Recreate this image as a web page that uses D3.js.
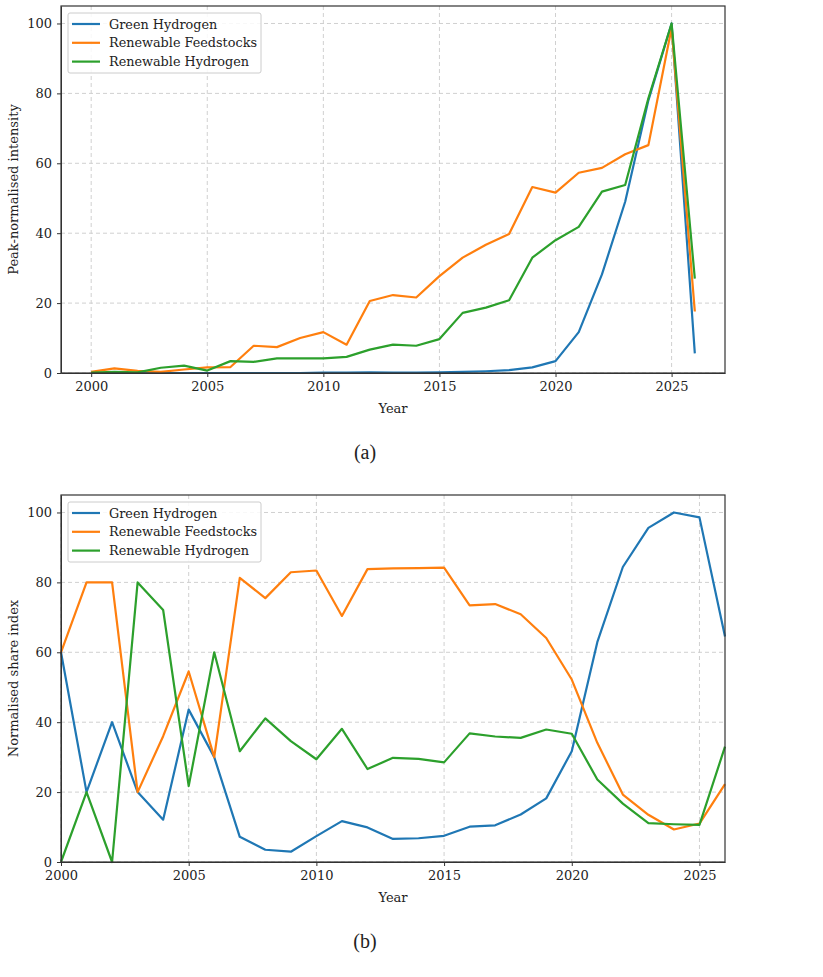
<!DOCTYPE html>
<html>
<head>
<meta charset="utf-8">
<script src="https://cdn.jsdelivr.net/npm/d3@7"></script>
<style>
    body { margin: 0; background: #fff; }
    text { font-family: "DejaVu Serif", serif; fill: #222; }
    .grid line { stroke: #d0d0d0; stroke-dasharray: 4,3; stroke-width: 1; }
    .axis path, .axis line { stroke: #333; }
    .axis text { font-size: 13px; }
    .caption { font-family: "Liberation Serif", serif; font-size: 20px; }
</style>
</head>
<body>
<div id="chart"></div>
<script>
var years = d3.range(2000, 2027);
var seriesNames = ["Green Hydrogen", "Renewable Feedstocks", "Renewable Hydrogen"];
var colors = ["#1f77b4", "#ff7f0e", "#2ca02c"];
var yTicks = [0, 20, 40, 60, 80, 100];
var xTicks = [2000, 2005, 2010, 2015, 2020, 2025];

// panel (a) peak-normalised intensity
var intensityGreen = [0, 0, 0, 0, 0, 0, 0, 0, 0, 0, 0.1, 0.1, 0.2, 0.1, 0.1, 0.2,
    0.3, 0.5, 0.8, 1.6, 3.4, 11.7, 28.2, 49, 78, 100, 5.6];
var intensityFeed = [0.3, 1.3, 0.6, 0.3, 1.0, 1.6, 1.7, 7.8, 7.4, 10.0, 11.7, 8.1, 20.6,
    22.3, 21.6, 27.7, 33, 36.7, 39.8, 53.2, 51.6, 57.3, 58.7, 62.6, 65.2, 98.7, 17.6];
var intensityRenew = [0.1, 0.3, 0.2, 1.5, 2.1, 0.7, 3.4, 3.2, 4.2, 4.2, 4.2, 4.6, 6.7,
    8.1, 7.8, 9.7, 17.2, 18.7, 20.8, 33, 38, 41.8, 51.9, 53.8, 78.6, 100, 27];

// panel (b) normalised share index
var shareGreen = [60, 20, 40, 20, 12.1, 43.6, 30, 7.2, 3.5, 2.95, 7.4, 11.7, 9.9, 6.6,
    6.8, 7.5, 10.1, 10.5, 13.6, 18.2, 31.7, 62.9, 84.4, 95.6, 100, 98.6, 64.5];
var shareFeed = [60, 80, 80, 20, 36, 54.5, 30, 81.3, 75.5, 82.9, 83.4, 70.4, 83.8, 84,
    84.1, 84.2, 73.4, 73.8, 70.9, 64.1, 52.2, 34.1, 19.3, 13.5, 9.3, 11, 22.3];
var shareRenew = [0, 20, 0, 80, 72.1, 21.7, 60, 31.7, 41.1, 34.6, 29.4, 38.1, 26.6, 29.8,
    29.5, 28.5, 36.8, 35.9, 35.5, 37.9, 36.7, 23.6, 16.7, 11.1, 10.8, 10.6, 33];

function init(){
    var W = 823, H = 977;
    var svg = d3.select("#chart").append("svg")
        .attr("width", W)
        .attr("height", H);

    var panel = function(cfg){
        var left = 61, right = 725, top = cfg.top, bottom = cfg.bottom;

        var xScale = d3.scaleLinear().domain(cfg.xDomain).range([left, right]);
        var yScale = d3.scaleLinear().domain([0, 105]).range([bottom, top]);

        var g = svg.append("g");

        // grid
        g.append("g").attr("class", "grid")
            .selectAll("line.v").data(xTicks).enter().append("line")
            .attr("x1", function(d) { return xScale(d); })
            .attr("x2", function(d) { return xScale(d); })
            .attr("y1", top).attr("y2", bottom);
        g.append("g").attr("class", "grid")
            .selectAll("line.h").data(yTicks).enter().append("line")
            .attr("x1", left).attr("x2", right)
            .attr("y1", function(d) { return yScale(d); })
            .attr("y2", function(d) { return yScale(d); });

        var line = d3.line()
            .x(function(d, i) { return xScale(years[i]); })
            .y(function(d) { return yScale(d); });

        cfg.series.forEach(function(s, i){
            g.append("path")
                .datum(s)
                .attr("d", line)
                .attr("fill", "none")
                .attr("stroke", colors[i])
                .attr("stroke-width", 2.2)
                .attr("stroke-linejoin", "round");
        });

        var xAxis = d3.axisBottom(xScale).tickValues(xTicks).tickFormat(d3.format("d"))
            .tickSize(4).tickSizeOuter(0).tickPadding(5);
        var yAxis = d3.axisLeft(yScale).tickValues(yTicks)
            .tickSize(4).tickSizeOuter(0).tickPadding(5);

        g.append("g").attr("class", "axis")
            .attr("transform", `translate(0,${bottom})`)
            .call(xAxis);
        g.append("g").attr("class", "axis")
            .attr("transform", `translate(${left},0)`)
            .call(yAxis);

        // frame
        g.append("rect")
            .attr("x", left).attr("y", top)
            .attr("width", right - left).attr("height", bottom - top)
            .attr("fill", "none").attr("stroke", "#333").attr("stroke-width", 1.2);

        g.append("text")
            .attr("x", (left + right) / 2)
            .attr("y", bottom + 40)
            .attr("text-anchor", "middle")
            .style("font-size", "13px")
            .text("Year");

        g.append("text")
            .attr("transform", `translate(18,${(top + bottom) / 2}) rotate(-90)`)
            .attr("text-anchor", "middle")
            .style("font-size", "13px")
            .text(cfg.yLabel);

        // legend
        var lg = g.append("g").attr("transform", `translate(${left + 7},${top + 7})`);
        lg.append("rect")
            .attr("width", 193).attr("height", 60).attr("rx", 2)
            .attr("fill", "#fff").attr("fill-opacity", 0.85)
            .attr("stroke", "#ccc");
        seriesNames.forEach(function(name, i){
            var yy = 11 + i * 18.8;
            lg.append("line")
                .attr("x1", 4).attr("x2", 32)
                .attr("y1", yy).attr("y2", yy)
                .attr("stroke", colors[i]).attr("stroke-width", 2.2);
            lg.append("text")
                .attr("x", 41).attr("y", yy + 4.5)
                .style("font-size", "12.8px")
                .text(name);
        });

        svg.append("text")
            .attr("class", "caption")
            .attr("x", 365).attr("y", cfg.captionY)
            .attr("text-anchor", "middle")
            .text(cfg.caption);
    };

    panel({
        top: 6, bottom: 373, xDomain: [1998.7, 2027.3],
        series: [intensityGreen, intensityFeed, intensityRenew],
        yLabel: "Peak-normalised intensity",
        caption: "(a)", captionY: 459
    });
    panel({
        top: 495, bottom: 862, xDomain: [2000, 2026],
        series: [shareGreen, shareFeed, shareRenew],
        yLabel: "Normalised share index",
        caption: "(b)", captionY: 948
    });
}
window.onload = init;
</script>
</body>
</html>
